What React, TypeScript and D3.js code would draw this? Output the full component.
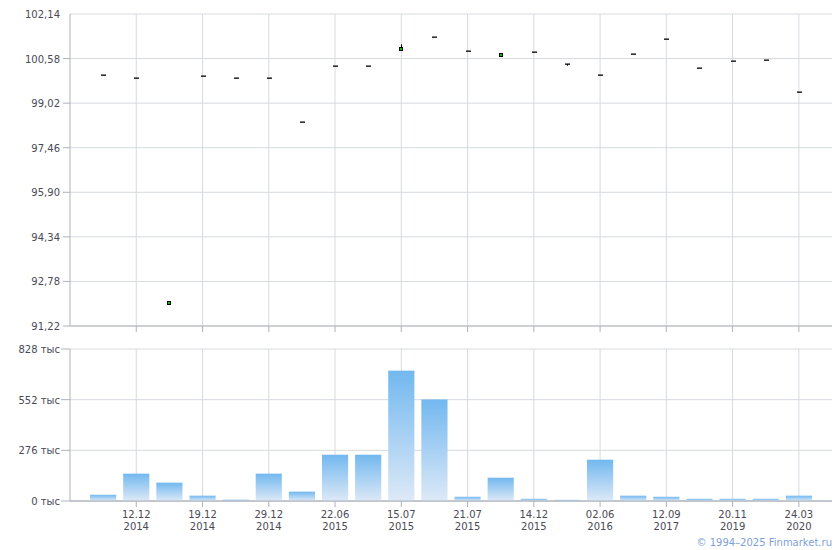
import * as d3 from "d3";

// candle data (price, % of nominal)
const openPrice = [99.99, 99.89, 92.0, 99.96, 99.89, 99.89, 98.35, 100.31, 100.31, 100.87, 101.32, 100.83, 100.68, 100.8, 100.38, 99.99, 100.73, 101.25, 100.24, 100.48, 100.52, 99.4];
const closePrice = [99.99, 99.89, 92.1, 99.96, 99.89, 99.89, 98.35, 100.31, 100.31, 100.97, 101.32, 100.83, 100.77, 100.8, 100.38, 99.99, 100.73, 101.25, 100.24, 100.48, 100.52, 99.4];
const highPrice = [99.99, 99.89, 92.1, 99.96, 99.89, 99.89, 98.35, 100.31, 100.31, 101.08, 101.32, 100.83, 100.77, 100.8, 100.38, 99.99, 100.73, 101.25, 100.24, 100.48, 100.52, 99.4];
const lowPrice = [99.99, 99.89, 92.0, 99.96, 99.89, 99.89, 98.35, 100.31, 100.31, 100.87, 101.32, 100.83, 100.68, 100.8, 100.33, 99.99, 100.73, 101.25, 100.24, 100.48, 100.52, 99.4];

// volume, thousands
const volume = [34, 149, 100, 29, 7, 149, 51, 252, 252, 710, 553, 23, 127, 12, 6, 225, 29, 23, 12, 12, 12, 29];

// date labels, only every second candle is labelled
const dateLabels = ["", "12.12.2014", "", "19.12.2014", "", "29.12.2014", "", "22.06.2015", "", "15.07.2015", "", "21.07.2015", "", "14.12.2015", "", "02.06.2016", "", "12.09.2017", "", "20.11.2019", "", "24.03.2020"];

const priceTicks = [91.22, 92.78, 94.34, 95.9, 97.46, 99.02, 100.58, 102.14];
const volumeTicks = [0, 276, 552, 828];

const W = 840;
const H = 550;
const left = 70;
const right = 832;
const font = "'DejaVu Sans', Verdana, sans-serif";
const textColor = "#4a4a55";
const gridColor = "#d6dade";
const axisColor = "#aeb2bb";

export default function App() {
  const idx = d3.range(dateLabels.length);
  const x = d3.scalePoint<number>().domain(idx).range([left, right]).padding(1);
  const step = x.step();
  const yP = d3.scaleLinear().domain([91.22, 102.14]).range([326, 14]);
  const yV = d3.scaleLinear().domain([0, 828]).range([501, 349]);
  const labelled = idx.filter((i) => dateLabels[i] !== "");
  const fmt = (v: number) => v.toFixed(2).replace(".", ",");
  const barW = step * 0.79;

  return (
    <svg width={W} height={H} style={{ position: "absolute", left: 0, top: 0 }} fontFamily={font}>
      <defs>
        <linearGradient id="volGrad" x1="0" y1="0" x2="0" y2="1">
          <stop offset="0%" stopColor="#72b8ef" />
          <stop offset="100%" stopColor="#dde9f7" />
        </linearGradient>
      </defs>
      <rect width={W} height={H} fill="#fff" />

      {/* price panel grid */}
      {priceTicks.map((t) => (
        <g key={"p" + t}>
          <line x1={left} x2={right} y1={yP(t)} y2={yP(t)} stroke={gridColor} />
          {t !== 102.14 && <line x1={left - 7} x2={left} y1={yP(t)} y2={yP(t)} stroke={axisColor} />}
          <text x={60} y={yP(t) + 4} textAnchor="end" fontSize={10} fill={textColor}>{fmt(t)}</text>
        </g>
      ))}
      {labelled.map((i) => (
        <g key={"pv" + i}>
          <line x1={x(i)} x2={x(i)} y1={14} y2={326} stroke={gridColor} />
          <line x1={x(i)} x2={x(i)} y1={326} y2={332} stroke={axisColor} />
        </g>
      ))}
      <line x1={left} x2={left} y1={14} y2={326} stroke={axisColor} />
      <line x1={left} x2={right} y1={326} y2={326} stroke={axisColor} />

      {/* candles */}
      {idx.map((i) => {
        const cx = Math.round(x(i)!);
        const o = openPrice[i];
        const c = closePrice[i];
        const top = yP(Math.max(o, c));
        const bot = yP(Math.min(o, c));
        const flat = bot - top < 1.5;
        return (
          <g key={"c" + i}>
            {highPrice[i] > Math.max(o, c) && (
              <line x1={cx + 0.5} x2={cx + 0.5} y1={yP(highPrice[i])} y2={top} stroke="#000" />
            )}
            {lowPrice[i] < Math.min(o, c) && (
              <line x1={cx + 0.5} x2={cx + 0.5} y1={bot} y2={yP(lowPrice[i])} stroke="#000" />
            )}
            {flat ? (
              <rect x={cx - 2} y={Math.round(top) - 0.5} width={5} height={1.3} fill="#000" />
            ) : (
              <rect
                x={cx - 1.5}
                y={Math.round(top) + 0.5}
                width={3}
                height={Math.max(3, Math.round(bot - top))}
                fill={c > o ? "#00c400" : "#000"}
                stroke="#000"
              />
            )}
          </g>
        );
      })}

      {/* volume panel grid */}
      {volumeTicks.map((t) => (
        <g key={"v" + t}>
          <line x1={left} x2={right} y1={yV(t)} y2={yV(t)} stroke={t === 0 ? axisColor : gridColor} />
          <line x1={left - 9} x2={left} y1={yV(t)} y2={yV(t)} stroke={axisColor} />
          <text x={60} y={yV(t) + 4} textAnchor="end" fontSize={10} fill={textColor}>{t} тыс</text>
        </g>
      ))}
      {labelled.map((i) => (
        <g key={"vv" + i}>
          <line x1={x(i)} x2={x(i)} y1={349} y2={501} stroke={gridColor} />
          <line x1={x(i)} x2={x(i)} y1={501} y2={507} stroke={axisColor} />
          <text x={x(i)} y={518} textAnchor="middle" fontSize={10} fill={textColor}>{dateLabels[i].slice(0, 5)}</text>
          <text x={x(i)} y={530} textAnchor="middle" fontSize={10} fill={textColor}>{dateLabels[i].slice(6)}</text>
        </g>
      ))}
      {idx.map((i) => (
        <rect
          key={"b" + i}
          x={x(i)! - barW / 2}
          y={yV(volume[i])}
          width={barW}
          height={yV(0) - yV(volume[i])}
          fill="url(#volGrad)"
        />
      ))}
      <line x1={left} x2={left} y1={349} y2={501} stroke={axisColor} />
      <line x1={left} x2={right} y1={501} y2={501} stroke={axisColor} />

      <text x={832} y={546} textAnchor="end" fontSize={10} fill="#7f9fd9">© 1994–2025 Finmarket.ru</text>
    </svg>
  );
}
